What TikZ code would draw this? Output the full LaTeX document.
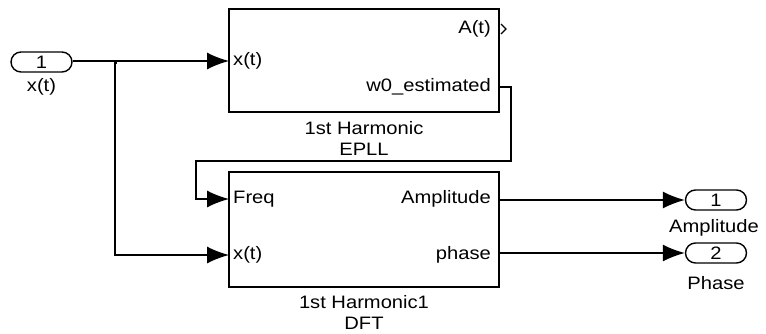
\documentclass[tikz,border=0pt]{standalone}
\usepackage{fontspec}
\setmainfont[FakeStretch=1.12]{Liberation Sans}
\usetikzlibrary{arrows.meta}
\begin{document}
\begin{tikzpicture}[x=1pt,y=-1pt,
  every node/.style={font=\fontsize{18}{20}\selectfont, inner sep=0pt},
  blk/.style={draw, line width=1.5pt, minimum width=270pt},
  port/.style={draw, line width=1.4pt, rounded corners=10pt, minimum width=61pt, minimum height=20pt},
  sig/.style={line width=1.3pt, -{Latex[length=22pt,width=17pt]}},
  wire/.style={line width=1.3pt}]
\useasboundingbox (0,0) rectangle (766,333);
% blocks
\node[blk, minimum height=103pt] (epll) at (364,60.5) {};
\node[blk, minimum height=115pt] (dft) at (364,229.5) {};
% block names
\node (epllname) at (364,128) {1st Harmonic};
\node (epllname2) at (364,149) {EPLL};
\node (dftname) at (364,302) {1st Harmonic1};
\node (dftname2) at (364,323) {DFT};
% port labels inside blocks
\node[anchor=west] (ex) at (233,61) {x(t)};
\node[anchor=east] (ea) at (491,29) {A(t)};
\node[anchor=east] (ew) at (491,87) {w0\_estimated};
\node[anchor=west] (df) at (233,199) {Freq};
\node[anchor=west] (dx) at (233,255) {x(t)};
\node[anchor=east] (da) at (491,199) {Amplitude};
\node[anchor=east] (dp) at (491,255) {phase};
% in/out ports
\node[port] (in1) at (41.5,62) {1};
\node (in1lab) at (41.5,87) {x(t)};
\node[port] (out1) at (716,200) {1};
\node (out1lab) at (714,228) {Amplitude};
\node[port] (out2) at (716,253) {2};
\node (out2lab) at (716,283) {Phase};
% coordinates
\coordinate (epin) at (229,61);
\coordinate (dfin1) at (229,199);
\coordinate (dfin2) at (229,255);
\coordinate (epw) at (500,87);
\coordinate (dfa) at (500,200);
\coordinate (dfp) at (500,253);
\coordinate (br) at (115,61);
% open output A(t)
\draw[line width=1.3pt] (501,24) -- (506,29) -- (501,34);
% connectors
\draw[sig] (in1.east |- br) -- (epin);
\draw[sig] (br) -- (br |- dfin2) -- (dfin2);
\fill (br) ++(-1.5,-0.5) rectangle ++(3.5,3.5);
\draw[sig] (epw) -- (511,87) -- (511,161) -- (196,161) -- (196,199) -- (dfin1);
\draw[sig] (dfa) -- (out1.west);
\draw[sig] (dfp) -- (out2.west);
\end{tikzpicture}
\end{document}
